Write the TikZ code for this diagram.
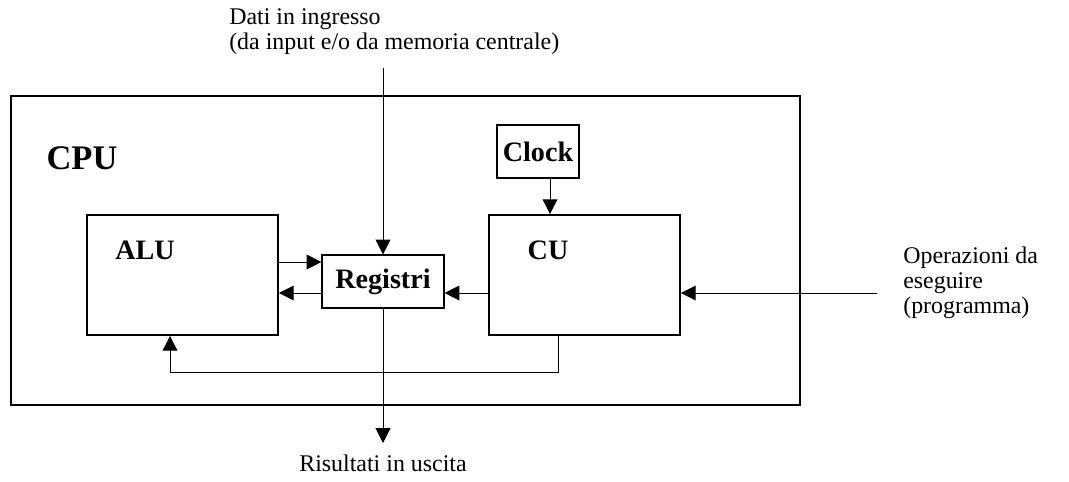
\documentclass[tikz,border=0pt]{standalone}
\usepackage{fontspec}
\setmainfont{Liberation Serif}
\usetikzlibrary{arrows.meta, positioning}
\tikzstyle{unit}=[rectangle, draw=black, line width=1.3pt, inner sep=0pt]
\tikzstyle{sbox}=[rectangle, draw=black, line width=0.8pt, inner sep=0pt,
  font=\fontsize{20}{24}\selectfont\bfseries]
\tikzstyle{lbl}=[inner sep=0pt, font=\fontsize{20}{24}\selectfont\bfseries]
\tikzstyle{note}=[inner sep=0pt, align=left, font=\fontsize{17}{17.8}\selectfont]
\tikzstyle{farr}=[-{Triangle[length=10.5pt, width=10.5pt]}, line width=0.7pt]

\begin{document}
\begin{tikzpicture}[x=0.025cm, y=-0.025cm]
        \useasboundingbox (0,0) rectangle (1069,481);
        % boxes
        \node[unit, minimum width=19.725cm, minimum height=7.725cm] (cpu) at (405.5,250.5) {};
        \node[lbl, font=\fontsize{24.5}{28}\selectfont\bfseries] (cpulbl) at (82,158) {CPU};
        \node[unit, minimum width=4.775cm, minimum height=3cm] (alu) at (182.5,275) {};
        \node[lbl] (alulbl) at (145,250) {ALU};
        \node[unit, minimum width=4.775cm, minimum height=3cm] (cu) at (584.5,275) {};
        \node[lbl] (culbl) at (548,250) {CU};
        \node[sbox, minimum width=3.05cm, minimum height=1.325cm] (reg) at (383,281.5) {Registri};
        \node[sbox, minimum width=2.05cm, minimum height=1.325cm] (clock) at (538,151.5) {Clock};
        % texts
        \node[note, anchor=north west] (dati) at (229,8)
          {Dati in ingresso\\(da input e/o da memoria centrale)};
        \node[note, anchor=north west] (ops) at (903,247)
          {Operazioni da\\eseguire\\(programma)};
        \node[note, anchor=north] (res) at (383,455) {Risultati in uscita};
        % connectors
        \coordinate (in) at (383,68);
        \coordinate (out) at (383,443);
        \coordinate (op) at (877,293);
        \coordinate (r1) at ([yshift=0.4875cm]reg.west);
        \coordinate (r2) at ([yshift=-0.2875cm]reg.west);
        \coordinate (r3) at ([yshift=-0.2875cm]reg.east);
        \coordinate (fb) at ([xshift=-0.6625cm]cu.south);
        \draw[farr] (in) -- (reg.north);
        \draw[farr] (r1 -| alu.east) -- (r1);
        \draw[farr] (r2) -- (r2 -| alu.east);
        \draw[farr] (r3 -| cu.west) -- (r3);
        \draw[farr] ([xshift=0.3cm]clock.south) -- ([xshift=0.3cm]clock.south |- cu.north);
        \draw[farr] (op) -- (op -| cu.east);
        \draw[farr] (fb) -- ++(0,37) -| ([xshift=-0.3125cm]alu.south);
        \draw[farr] (reg.south) -- (out);
      \end{tikzpicture}
\end{document}
